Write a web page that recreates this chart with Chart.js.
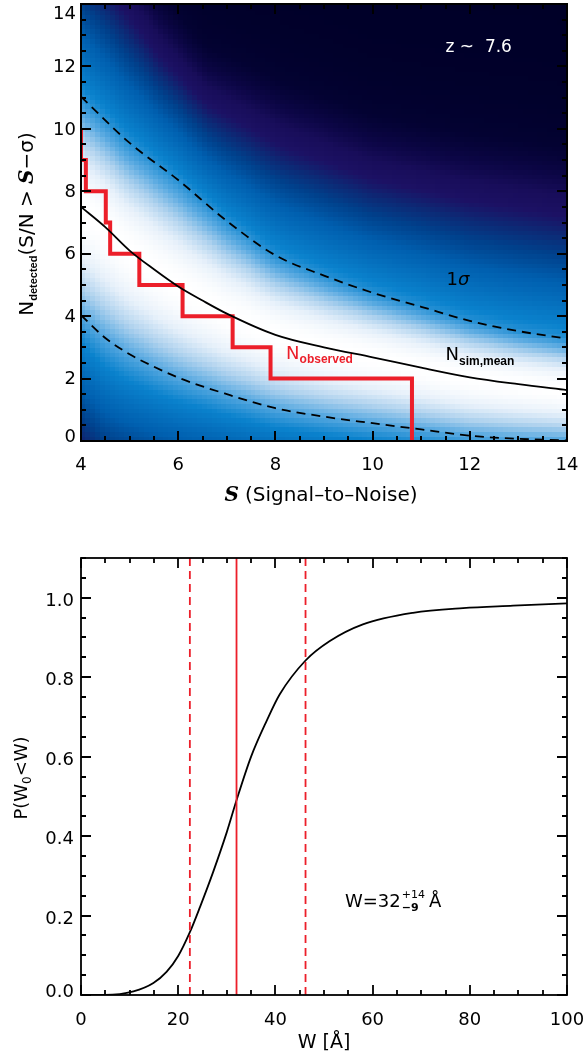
<!DOCTYPE html>
<html><head><meta charset="utf-8">
<script src="https://cdn.jsdelivr.net/npm/chart.js@4.4.1/dist/chart.umd.min.js"></script>
<style>
html,body{margin:0;padding:0;background:#fff;}
#wrap{position:relative;width:587px;height:1059px;overflow:hidden;background:#fff;}
#c1{position:absolute;left:0;top:0;}
#c2{position:absolute;left:0;top:515px;}
</style></head><body>
<div id="wrap">
<canvas id="c1" width="587" height="515" style="width:587px;height:515px"></canvas>
<canvas id="c2" width="587" height="544" style="width:587px;height:544px"></canvas>
</div>
<script>
// ================= TOP PANEL DATA =================
const snTicks = [4, 6, 8, 10, 12, 14];
const nTicks = [0, 2, 4, 6, 8, 10, 12, 14];
// mean simulated number of detections N_sim,mean(>S)
const meanS = [4, 4.5, 5, 5.5, 6, 6.5, 7, 8, 9, 10, 11, 12, 13, 14];
const meanN = [7.5, 6.85, 6.1, 5.5, 4.95, 4.5, 4.08, 3.4, 3.0, 2.68, 2.35, 2.04, 1.82, 1.63];
// upper 1-sigma
const upS = [4, 5, 6, 7, 8, 9, 10, 11, 12, 13, 14];
const upN = [11.03, 9.55, 8.36, 7.05, 5.95, 5.3, 4.75, 4.3, 3.85, 3.52, 3.28];
// lower 1-sigma
const lowS = [4, 4.5, 5, 5.5, 6, 7, 8, 9, 10, 11, 12, 13, 14];
const lowN = [4.03, 3.3, 2.78, 2.38, 2.03, 1.5, 1.05, 0.78, 0.57, 0.37, 0.17, 0.07, 0.02];
// contour where the shading turns from blue to dark purple
const edgeS = [4, 4.8, 5.6, 6.6, 8.1, 10, 12, 14];
const edgeN = [15.5, 14, 12.4, 10.8, 9.5, 8.4, 7.7, 7.2];
// observed cumulative counts (step)
const obsStartN = 10;
const obsS = [4.0, 4.1, 4.51, 4.6, 5.2, 6.09, 7.12, 7.9, 10.81];
const obsN = [9, 8, 7, 6, 5, 4, 3, 2, 0];
const zLabel = 'z ~  7.6';

// ================= BOTTOM PANEL DATA =================
const wTicks = [0, 20, 40, 60, 80, 100];
const pTicks = [0.0, 0.2, 0.4, 0.6, 0.8, 1.0];
const cdfW = [0, 5, 10.8, 14.9, 17.6, 20, 22.4, 24.5, 27.2, 30, 32, 35, 38.2, 40.9, 46.2, 51.2, 58, 68.3, 78.6, 88.9, 100];
const cdfP = [0, 0, 0.009, 0.03, 0.058, 0.098, 0.158, 0.222, 0.31, 0.41, 0.49, 0.6, 0.69, 0.757, 0.842, 0.891, 0.933, 0.962, 0.974, 0.98, 0.986];
const wMarks = [22.4, 32, 46.2]; // lower, best, upper

// ================= STYLE =================
const DV = '"DejaVu Sans", sans-serif';
const LS = '"Liberation Sans", Arial, sans-serif';
const SCRIPT = 'bold italic 20px "DejaVu Serif", serif';
const RED = '#ec1f2a';
const heatStops = [
  [0.00, 0, 0, 40],
  [0.04, 3, 2, 50],
  [0.07, 12, 6, 70],
  [0.10, 24, 13, 90],
  [0.14, 28, 17, 100],
  [0.19, 12, 42, 118],
  [0.25, 0, 65, 140],
  [0.35, 0, 95, 175],
  [0.55, 10, 130, 205],
  [0.70, 90, 170, 225],
  [0.82, 175, 210, 238],
  [0.92, 230, 240, 250],
  [1.00, 255, 255, 255]
];
const Z_EDGE = 1.98;   // shading level of the purple contour

function interp(xs, ys, x) {
  if (x <= xs[0]) return ys[0];
  for (let i = 1; i < xs.length; i++) {
    if (x <= xs[i]) { const t = (x - xs[i-1]) / (xs[i] - xs[i-1]); return ys[i-1] + t * (ys[i] - ys[i-1]); }
  }
  return ys[ys.length - 1];
}
function cmap(v) {
  for (let i = 1; i < heatStops.length; i++) {
    if (v <= heatStops[i][0]) {
      const a = heatStops[i-1], b = heatStops[i];
      const t = (v - a[0]) / (b[0] - a[0]);
      return 'rgb(' + [1,2,3].map(k => Math.round(a[k] + t * (b[k] - a[k]))).join(',') + ')';
    }
  }
  return 'rgb(255,255,255)';
}
const pts = (xs, ys) => xs.map((x, i) => ({x: x, y: ys[i]}));

function drawRich(ctx, x, y, parts, align, rot, color) {
  ctx.save();
  ctx.translate(x, y);
  if (rot) ctx.rotate(rot);
  let w = 0;
  for (const p of parts) { ctx.font = p.f; w += ctx.measureText(p.t).width + (p.gap || 0); }
  let cx = align === 'center' ? -w / 2 : 0;
  ctx.textAlign = 'left'; ctx.textBaseline = 'alphabetic';
  for (const p of parts) {
    ctx.font = p.f; ctx.fillStyle = p.c || color || '#000';
    ctx.fillText(p.t, cx, p.dy || 0);
    cx += ctx.measureText(p.t).width + (p.gap || 0);
  }
  ctx.restore();
}

function drawFrame(ctx, a, xs, ys, xMaj, xMinStep, yMaj, yMinStep, lw) {
  ctx.save();
  ctx.strokeStyle = '#000'; ctx.lineWidth = lw;
  ctx.beginPath();
  const majL = 10, minL = 5;
  const xmin = xs.min, xmax = xs.max, ymin = ys.min, ymax = ys.max;
  for (let k = 0; ; k++) {
    const v = xmin + k * xMinStep; if (v > xmax + 1e-9) break;
    const isMaj = xMaj.some(m => Math.abs(m - v) < 1e-6);
    const L = isMaj ? majL : minL;
    const px = Math.round(xs.getPixelForValue(v));
    ctx.moveTo(px, a.bottom); ctx.lineTo(px, a.bottom - L);
    ctx.moveTo(px, a.top); ctx.lineTo(px, a.top + L);
  }
  for (let k = 0; ; k++) {
    const v = ymin + k * yMinStep; if (v > ymax + 1e-9) break;
    const isMaj = yMaj.some(m => Math.abs(m - v) < 1e-6);
    const L = isMaj ? majL : minL;
    const py = Math.round(ys.getPixelForValue(v));
    ctx.moveTo(a.left, py); ctx.lineTo(a.left + L, py);
    ctx.moveTo(a.right, py); ctx.lineTo(a.right - L, py);
  }
  ctx.stroke();
  ctx.strokeRect(a.left, a.top, a.right - a.left, a.bottom - a.top);
  ctx.restore();
}

// ---------- heat map plugin: cell shade derived from the read mean / 1-sigma / edge curves ----------
const heatPlugin = {
  id: 'heat',
  beforeDatasetsDraw(chart) {
    const {ctx, chartArea: a, scales: {x, y}} = chart;
    ctx.save();
    ctx.beginPath(); ctx.rect(a.left, a.top, a.right - a.left, a.bottom - a.top); ctx.clip();
    const ds = 0.1, dn = 0.15;
    const nsCols = Math.round((x.max - x.min) / ds);
    const nRows = Math.ceil((y.max - y.min) / dn);
    for (let i = 0; i < nsCols; i++) {
      const s0 = x.min + i * ds, sc = s0 + ds / 2;
      const m = interp(meanS, meanN, sc), u = interp(upS, upN, sc), l = interp(lowS, lowN, sc);
      const e = interp(edgeS, edgeN, sc);
      const x0 = Math.floor(x.getPixelForValue(s0)), x1 = Math.ceil(x.getPixelForValue(s0 + ds));
      for (let j = 0; j < nRows; j++) {
        const n0 = y.min + j * dn, nc = n0 + dn / 2;
        let z;
        if (nc >= u) z = 1 + (nc - u) / (e - u) * (Z_EDGE - 1);
        else if (nc >= m) z = (nc - m) / (u - m);
        else z = (m - nc) / ((m - l) * 1.15);
        const v = Math.exp(-z * z / 2);
        const y0 = Math.floor(y.getPixelForValue(n0 + dn)), y1 = Math.ceil(y.getPixelForValue(n0));
        ctx.fillStyle = cmap(v);
        ctx.fillRect(x0, y0, x1 - x0, y1 - y0);
      }
    }
    ctx.restore();
  }
};

const frame1 = {
  id: 'frame1',
  afterDatasetsDraw(chart) {
    const {ctx, chartArea: a, scales: {x, y}} = chart;
    drawFrame(ctx, a, x, y, snTicks, 0.5, nTicks, 0.5, 2);
    ctx.save();
    ctx.fillStyle = '#000';
    ctx.font = '18px ' + DV;
    ctx.textAlign = 'center'; ctx.textBaseline = 'alphabetic';
    for (const t of snTicks) ctx.fillText(String(t), x.getPixelForValue(t), 470);
    ctx.textAlign = 'right';
    for (const t of nTicks) {
      let b = y.getPixelForValue(t) + 5.7;
      b = Math.max(b, a.top + 15.3); b = Math.min(b, a.bottom + 1);
      ctx.fillText(String(t), 76, b);
    }
    ctx.restore();
    // annotations
    ctx.save();
    ctx.fillStyle = '#fff'; ctx.font = '17px ' + DV; ctx.textAlign = 'left';
    ctx.fillText(zLabel, x.getPixelForValue(11.5), y.getPixelForValue(12.47));
    ctx.restore();
    drawRich(ctx, x.getPixelForValue(11.52), y.getPixelForValue(4.99),
      [{t: '1', f: '18px ' + DV}, {t: 'σ', f: 'italic 18px ' + DV}], 'left', 0, '#000');
    drawRich(ctx, x.getPixelForValue(11.5), y.getPixelForValue(2.59),
      [{t: 'N', f: '18px ' + DV}, {t: 'sim,mean', f: 'bold 12px ' + LS, dy: 4.5}], 'left', 0, '#000');
    drawRich(ctx, x.getPixelForValue(8.22), y.getPixelForValue(2.62),
      [{t: 'N', f: '18px ' + DV}, {t: 'observed', f: 'bold 12px ' + LS, dy: 4}], 'left', 0, RED);
    // axis titles
    drawRich(ctx, 321, 501,
      [{t: 'S', f: SCRIPT, gap: 6}, {t: '(Signal–to–Noise)', f: '20px ' + DV}], 'center', 0, '#000');
    drawRich(ctx, 33, 224,
      [{t: 'N', f: '20px ' + DV}, {t: 'detected', f: 'bold 11px ' + LS, dy: 4}, {t: '(S/N > ', f: '20px ' + DV},
       {t: 'S', f: SCRIPT}, {t: '−σ)', f: '20px ' + DV}], 'center', -Math.PI / 2, '#000');
  }
};

new Chart(document.getElementById('c1'), {
  type: 'scatter',
  data: {
    datasets: [
      {label: 'upper 1σ', data: pts(upS, upN), showLine: true, borderColor: '#000', borderWidth: 1.8,
       borderDash: [9, 6], pointRadius: 0, cubicInterpolationMode: 'monotone'},
      {label: 'lower 1σ', data: pts(lowS, lowN), showLine: true, borderColor: '#000', borderWidth: 1.8,
       borderDash: [9, 6], pointRadius: 0, cubicInterpolationMode: 'monotone'},
      {label: 'N_sim,mean', data: pts(meanS, meanN), showLine: true, borderColor: '#000', borderWidth: 1.8,
       pointRadius: 0, cubicInterpolationMode: 'monotone'},
      {label: 'N_observed', data: [{x: obsS[0], y: obsStartN}].concat(pts(obsS, obsN)), showLine: true,
       borderColor: RED, borderWidth: 4, pointRadius: 0, stepped: 'before', borderJoinStyle: 'miter', borderCapStyle: 'butt'}
    ]
  },
  options: {
    responsive: false, animation: false, devicePixelRatio: 1,
    layout: {padding: {left: 81, top: 4, right: 20, bottom: 74}},
    scales: {
      x: {type: 'linear', min: 4, max: 14, display: false},
      y: {type: 'linear', min: 0, max: 14, display: false}
    },
    plugins: {legend: {display: false}, tooltip: {enabled: false}}
  },
  plugins: [heatPlugin, frame1]
});

// ================= BOTTOM CHART =================
const frame2 = {
  id: 'frame2',
  afterDatasetsDraw(chart) {
    const {ctx, chartArea: a, scales: {x, y}} = chart;
    drawFrame(ctx, a, x, y, wTicks, 5, pTicks, 0.05, 1.8);
    ctx.save();
    ctx.fillStyle = '#000';
    ctx.font = '18px ' + DV;
    ctx.textAlign = 'center'; ctx.textBaseline = 'alphabetic';
    for (const t of wTicks) ctx.fillText(String(t), x.getPixelForValue(t), 510);
    ctx.textAlign = 'right';
    for (const t of pTicks) {
      let b = y.getPixelForValue(t) + 8.3;
      b = Math.min(b, a.bottom + 2.3);
      ctx.fillText(t.toFixed(1), 74, b);
    }
    ctx.restore();
    // W = 32 +14 -9 Å
    ctx.save();
    const bx = x.getPixelForValue(54.3), by = y.getPixelForValue(0.2215);
    ctx.fillStyle = '#000'; ctx.textAlign = 'left'; ctx.textBaseline = 'alphabetic';
    ctx.font = '18px ' + DV;
    const main = 'W=32';
    ctx.fillText(main, bx, by);
    let cx = bx + ctx.measureText(main).width + 1;
    ctx.font = '11px ' + DV;
    const wsup = ctx.measureText('+14').width;
    ctx.fillText('+14', cx, by - 9.5);
    ctx.font = 'bold 11px ' + DV;
    const wsub = ctx.measureText('−9').width;
    ctx.fillText('−9', cx, by + 4);
    cx += Math.max(wsup, wsub) + 4;
    ctx.font = '18px ' + DV;
    ctx.fillText('Å', cx, by);
    ctx.restore();
    // axis titles
    drawRich(ctx, 324, 533.3, [{t: 'W [Å]', f: '19px ' + DV}], 'center', 0, '#000');
    drawRich(ctx, 27, 263,
      [{t: 'P(W', f: '18px ' + DV}, {t: '0', f: '12px ' + DV, dy: 4}, {t: '<W)', f: '18px ' + DV}],
      'center', -Math.PI / 2, '#000');
  }
};

new Chart(document.getElementById('c2'), {
  type: 'scatter',
  data: {
    datasets: [
      {label: 'lower', data: [{x: wMarks[0], y: 0}, {x: wMarks[0], y: 1.1}], showLine: true,
       borderColor: RED, borderWidth: 1.8, borderDash: [8, 5], pointRadius: 0},
      {label: 'best', data: [{x: wMarks[1], y: 0}, {x: wMarks[1], y: 1.1}], showLine: true,
       borderColor: RED, borderWidth: 1.8, pointRadius: 0},
      {label: 'upper', data: [{x: wMarks[2], y: 0}, {x: wMarks[2], y: 1.1}], showLine: true,
       borderColor: RED, borderWidth: 1.8, borderDash: [8, 5], pointRadius: 0},
      {label: 'P(W0<W)', data: pts(cdfW, cdfP), showLine: true, borderColor: '#000', borderWidth: 1.8,
       pointRadius: 0, cubicInterpolationMode: 'monotone'}
    ]
  },
  options: {
    responsive: false, animation: false, devicePixelRatio: 1,
    layout: {padding: {left: 81, top: 43, right: 20, bottom: 64}},
    scales: {
      x: {type: 'linear', min: 0, max: 100, display: false},
      y: {type: 'linear', min: 0, max: 1.1, display: false}
    },
    plugins: {legend: {display: false}, tooltip: {enabled: false}}
  },
  plugins: [frame2]
});
</script>
</body></html>
